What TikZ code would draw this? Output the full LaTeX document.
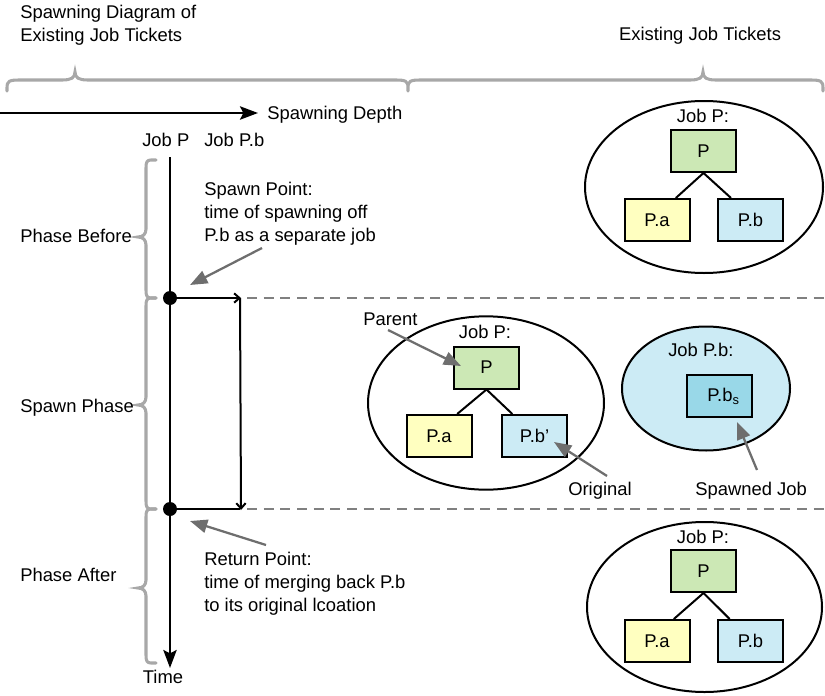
\documentclass[tikz,border=0pt]{standalone}
\usepackage{fontspec}
\setmainfont{Liberation Sans}
\usetikzlibrary{arrows.meta,shapes.geometric}
\definecolor{pgreen}{HTML}{CCE8B5}
\definecolor{pyellow}{HTML}{FFFFC0}
\definecolor{pblue}{HTML}{CCEBF5}
\definecolor{pdblue}{HTML}{99D8E8}
\definecolor{bracegray}{HTML}{A8A8A8}
\definecolor{arrgray}{HTML}{6E6E6E}
\definecolor{dashgray}{HTML}{808080}
\newcommand\myvbrace[3]{%
 \draw[brace] (156,#1) -- (151,#1) .. controls (147,#1) and (146,#1+2) .. (146,#1+8) -- (146,#3-8) .. controls (146,#3-3) and (143,#3) .. (138,#3) .. controls (143,#3) and (146,#3+3) .. (146,#3+8) -- (146,#2-8) .. controls (146,#2-2) and (147,#2) .. (151,#2) -- (156,#2);}
\begin{document}
\begin{tikzpicture}[x=0.75pt,y=-0.75pt, font=\fontsize{13.8}{17.25}\selectfont,
 txt/.style={inner sep=0pt, align=left},
 jobbox/.style={draw, line width=1.5pt, minimum width=48.75pt, minimum height=31.5pt, inner sep=0pt},
 ell/.style={draw, ellipse, line width=1.5pt, inner sep=0pt},
 brace/.style={draw=bracegray, line width=2.3pt, line cap=round},
 garrow/.style={draw=arrgray, line width=1.7pt, -{Triangle[length=13pt,width=10pt]}},
 axis/.style={line width=1.6pt, -{Stealth[length=13.5pt,width=10pt,inset=2.5pt]}},
 sep/.style={draw=dashgray, line width=1.2pt, dash pattern=on 7.5pt off 5pt},
 tree/.style={line width=1.5pt},
 dot/.style={circle, fill=black, inner sep=0pt, minimum size=10.5pt}]
\useasboundingbox (0,0) rectangle (825,696);

% titles
\node[txt, anchor=north west] (title1) at (20,5) {Spawning Diagram of\\Existing Job Tickets};
\node[txt, anchor=north] (title2) at (700,27) {Existing Job Tickets};

% top braces
\draw[brace] (7,91) -- (7,88) .. controls (7,81) and (9,80) .. (20,80) -- (62,80) .. controls (71,80) and (75,78) .. (75,72) .. controls (75,78) and (79,80) .. (88,80) -- (395,80) .. controls (406,80) and (408,81) .. (408,88) -- (408,91)
 (408,88) .. controls (408,81) and (410,80) .. (421,80) -- (690,80) .. controls (699,80) and (703,78) .. (703,72) .. controls (703,78) and (707,80) .. (716,80) -- (810,80) .. controls (821,80) and (823,81) .. (823,88) -- (823,91);

% spawning depth axis
\coordinate (sd0) at (0,113);
\coordinate (sd1) at (258,113);
\draw[axis] (sd0) -- (sd1);
\node[txt, anchor=base west] (sdl) at (267,119) {Spawning Depth};
\node[txt, anchor=base west] (jp) at (142,146) {Job P};
\node[txt, anchor=base west] (jpb) at (204,146) {Job P.b};

% time axis
\coordinate (t0) at (170,157);
\coordinate (t1) at (170,668);
\draw[axis] (t0) -- (t1);
\node[txt, anchor=base] (time) at (163,683) {Time};

% phase braces
\myvbrace{160}{298}{237}
\myvbrace{298}{509}{405}
\myvbrace{509}{663}{588}
\node[txt, anchor=base west] (pbef) at (20,242) {Phase Before};
\node[txt, anchor=base west] (pspn) at (20,412) {Spawn Phase};
\node[txt, anchor=base west] (paft) at (20,581) {Phase After};

% dashed separators
\coordinate (s1a) at (247,298); \coordinate (s1b) at (825,298);
\coordinate (s2a) at (247,509); \coordinate (s2b) at (825,509);
\draw[sep] (s1a) -- (s1b);
\draw[sep] (s2a) -- (s2b);

% spawn / return points
\node[dot] (d1) at (170,298) {};
\node[dot] (d2) at (170,509) {};
\coordinate (c1) at (241,298);
\coordinate (c2) at (241,510);
\coordinate (c1b) at (240,298);
\coordinate (c2b) at (240,509);
\draw[line width=1.5pt, -{Straight Barb[length=4pt,width=7pt]}] (d1.center) -- (c1);
\draw[line width=1.5pt, -{Straight Barb[length=4pt,width=7pt]}] (c1b) -- (c2);
\draw[line width=1.5pt] (d2.center) -- (c2b);

\node[txt, anchor=north west] (sp) at (204,182) {Spawn Point:\\time of spawning off\\P.b as a separate job};
\coordinate (spa) at (262,248);
\coordinate (spb) at (190,285);
\draw[garrow] (spa) -- (spb);
\node[txt, anchor=north west] (rp) at (204,552) {Return Point:\\time of merging back P.b\\to its original lcoation};
\coordinate (rpa) at (266,545);
\coordinate (rpb) at (190,521);
\draw[garrow] (rpa) -- (rpb);

% top ellipse
\node[ell, minimum width=178.5pt, minimum height=129pt] (e1) at (704,187) {};
\node[txt, anchor=base] (e1l) at (703,122) {Job P:};
\node[jobbox, fill=pgreen] (p1) at (703.5,151) {P};
\node[jobbox, fill=pyellow] (pa1) at (657,220) {P.a};
\node[jobbox, fill=pblue] (pb1) at (750.5,220) {P.b};
\draw[tree] (p1.south) -- ([xshift=-11pt]pa1.north east);
\draw[tree] (p1.south) -- ([xshift=10.5pt]pb1.north west);

% middle ellipse
\node[ell, minimum width=177pt, minimum height=130pt] (e2) at (486,403) {};
\node[txt, anchor=base] (e2l) at (485,338) {Job P:};
\node[jobbox, fill=pgreen] (p2) at (486.5,367.5) {P};
\node[jobbox, fill=pyellow] (pa2) at (439,436) {P.a};
\node[jobbox, fill=pblue] (pb2) at (534.5,436) {P.b\symbol{39}};
\draw[tree] (p2.south) -- ([xshift=-11.5pt]pa2.north east);
\draw[tree] (p2.south) -- ([xshift=8.5pt]pb2.north west);
\node[txt, anchor=base west] (parent) at (363,325) {Parent};
\coordinate (para) at (388,330);
\coordinate (parb) at (461,366);
\draw[garrow] (para) -- (parb);
\node[txt, anchor=base west] (orig) at (568,495) {Original};
\coordinate (ora) at (607,476);
\coordinate (orb) at (554,442);
\draw[garrow] (ora) -- (orb);

% spawned ellipse
\node[ell, fill=pblue, minimum width=126pt, minimum height=93pt] (e3) at (706,388.5) {};
\node[txt, anchor=base west] (e3l) at (668,356) {Job P.b:};
\node[jobbox, fill=pdblue] (pbs) at (719.5,396) {\hspace*{6pt}P.b\textsubscript{s}};
\node[txt, anchor=base west] (spj) at (695,495) {Spawned Job};
\coordinate (sja) at (757,470);
\coordinate (sjb) at (737,422);
\draw[garrow] (sja) -- (sjb);

% bottom ellipse
\node[ell, minimum width=176.25pt, minimum height=127.5pt] (e4) at (704.5,607) {};
\node[txt, anchor=base] (e4l) at (703,543) {Job P:};
\node[jobbox, fill=pgreen] (p4) at (703.5,571) {P};
\node[jobbox, fill=pyellow] (pa4) at (657,641) {P.a};
\node[jobbox, fill=pblue] (pb4) at (750.5,641) {P.b};
\draw[tree] (p4.south) -- ([xshift=-12.5pt]pa4.north east);
\draw[tree] (p4.south) -- ([xshift=9.5pt]pb4.north west);
\end{tikzpicture}
\end{document}
